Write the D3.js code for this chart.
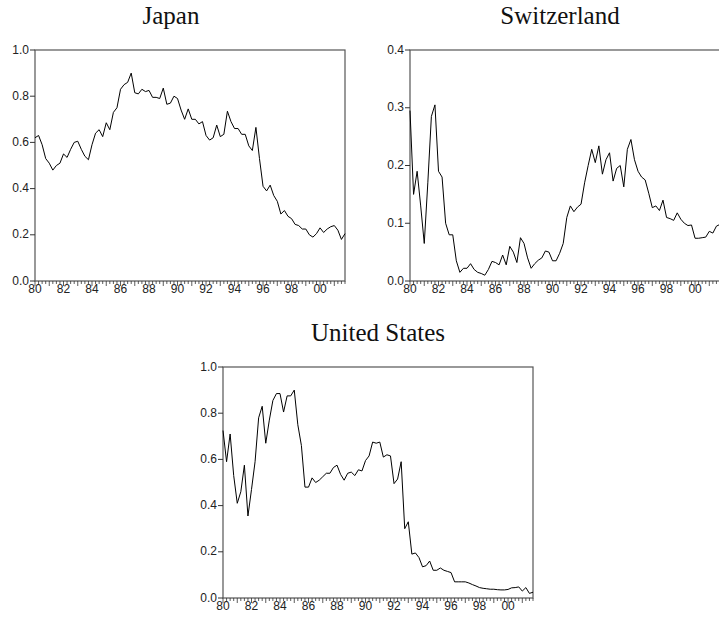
<!DOCTYPE html>
<html>
<head>
<meta charset="utf-8">
<script src="https://cdn.jsdelivr.net/npm/d3@7"></script>
<style>
  body { margin: 0; background: #fff; }
  .ytick, .xtick { font-family: "Liberation Sans", Arial, sans-serif; font-size: 12px; fill: #222; }
  .title { font-family: "Liberation Serif", "Times New Roman", serif; font-size: 25px; fill: #111; }
</style>
</head>
<body>
<svg id="chart" width="719" height="625"></svg>
<script>
// quarterly observations, 1980Q1 .. 2001Q4
const startYear = 1980;
const yearLabels = ["80", "82", "84", "86", "88", "90", "92", "94", "96", "98", "00"];

const japan = [
  0.62, 0.63, 0.59, 0.53, 0.51, 0.48, 0.50, 0.51, 0.55, 0.535, 0.57, 0.60,
  0.605, 0.57, 0.54, 0.525, 0.59, 0.64, 0.655, 0.625, 0.685, 0.655, 0.73, 0.75,
  0.83, 0.85, 0.86, 0.90, 0.815, 0.81, 0.83, 0.82, 0.825, 0.795, 0.795, 0.79,
  0.835, 0.765, 0.77, 0.80, 0.79, 0.74, 0.70, 0.745, 0.70, 0.70, 0.68, 0.69,
  0.63, 0.61, 0.62, 0.675, 0.625, 0.635, 0.735, 0.69, 0.66, 0.66, 0.635, 0.635,
  0.585, 0.565, 0.665, 0.53, 0.41, 0.39, 0.415, 0.37, 0.345, 0.29, 0.305, 0.28,
  0.27, 0.245, 0.24, 0.225, 0.225, 0.20, 0.19, 0.205, 0.23, 0.21, 0.225, 0.235,
  0.24, 0.22, 0.18, 0.205
];

const switzerland = [
  0.295, 0.15, 0.19, 0.13, 0.065, 0.17, 0.285, 0.305, 0.19, 0.18, 0.10, 0.08,
  0.08, 0.035, 0.015, 0.022, 0.022, 0.03, 0.02, 0.015, 0.013, 0.01, 0.02, 0.034,
  0.032, 0.028, 0.045, 0.028, 0.06, 0.05, 0.032, 0.075, 0.065, 0.04, 0.022, 0.03,
  0.036, 0.04, 0.052, 0.05, 0.035, 0.035, 0.048, 0.065, 0.11, 0.13, 0.12, 0.128,
  0.133, 0.17, 0.20, 0.228, 0.205, 0.234, 0.185, 0.21, 0.222, 0.173, 0.195, 0.20,
  0.163, 0.228, 0.245, 0.21, 0.19, 0.18, 0.175, 0.152, 0.127, 0.13, 0.122, 0.14,
  0.11, 0.108, 0.105, 0.118, 0.107, 0.10, 0.096, 0.097, 0.074, 0.074, 0.075, 0.076,
  0.086, 0.083, 0.095, 0.098
];

const unitedStates = [
  0.725, 0.59, 0.71, 0.53, 0.41, 0.46, 0.575, 0.355, 0.47, 0.59, 0.78, 0.83,
  0.67, 0.77, 0.855, 0.885, 0.885, 0.805, 0.875, 0.875, 0.90, 0.75, 0.66, 0.48,
  0.48, 0.52, 0.50, 0.51, 0.525, 0.54, 0.54, 0.565, 0.575, 0.535, 0.51, 0.54,
  0.545, 0.53, 0.555, 0.55, 0.595, 0.615, 0.675, 0.67, 0.675, 0.61, 0.62, 0.615,
  0.495, 0.515, 0.59, 0.30, 0.33, 0.19, 0.195, 0.175, 0.135, 0.14, 0.16, 0.12,
  0.12, 0.13, 0.12, 0.115, 0.11, 0.07, 0.07, 0.07, 0.07, 0.065, 0.058, 0.052,
  0.045, 0.042, 0.04, 0.038, 0.038, 0.036, 0.035, 0.035, 0.037, 0.044, 0.045, 0.048,
  0.03, 0.045, 0.02, 0.025
];

const ticksOneToOne = [0, 0.2, 0.4, 0.6, 0.8, 1.0];
const ticksSwiss = [0, 0.1, 0.2, 0.3, 0.4];

const svg = d3.select("#chart");
const pw = 310, ph = 231;

function panel(data, title, yMax, yTicks, left, top, titleShift) {
  const g = svg.append("g").attr("transform", `translate(${left},${top})`);

  const x = d3.scaleLinear().domain([0, data.length - 1]).range([0, pw]);
  const y = d3.scaleLinear().domain([0, yMax]).range([ph, 0]);

  // frame
  g.append("rect")
    .attr("x", 0).attr("y", 0)
    .attr("width", pw).attr("height", ph)
    .attr("fill", "none")
    .attr("stroke", "#555")
    .attr("stroke-width", 1.2);

  // y axis ticks + labels
  yTicks.forEach(t => {
    g.append("line")
      .attr("x1", -5).attr("x2", 0)
      .attr("y1", y(t)).attr("y2", y(t))
      .attr("stroke", "#333");
    g.append("text")
      .attr("class", "ytick")
      .attr("x", -6).attr("y", y(t))
      .attr("dy", "0.3em")
      .attr("text-anchor", "end")
      .text(t.toFixed(1));
  });

  // x axis: tick each quarter, longer at years
  d3.range(data.length).forEach(i => {
    g.append("line")
      .attr("x1", x(i)).attr("x2", x(i))
      .attr("y1", ph).attr("y2", ph + (i % 4 === 0 ? 5 : 3))
      .attr("stroke", "#333")
      .attr("stroke-width", 0.8);
  });
  yearLabels.forEach((lab, k) => {
    g.append("text")
      .attr("class", "xtick")
      .attr("x", x(k * 8))
      .attr("y", ph + 12)
      .attr("text-anchor", "middle")
      .text(lab);
  });

  const line = d3.line()
    .x((d, i) => x(i))
    .y(d => y(d));

  g.append("path")
    .datum(data)
    .attr("fill", "none")
    .attr("stroke", "#000")
    .attr("stroke-width", 1)
    .attr("d", line);

  g.append("text")
    .attr("class", "title")
    .attr("x", pw / 2 + titleShift)
    .attr("y", -26)
    .attr("text-anchor", "middle")
    .text(title);
}

panel(japan, "Japan", 1.0, ticksOneToOne, 35, 50, -19);
panel(switzerland, "Switzerland", 0.4, ticksSwiss, 410, 50, -5);
panel(unitedStates, "United States", 1.0, ticksOneToOne, 223, 367, 0);
</script>
</body>
</html>
